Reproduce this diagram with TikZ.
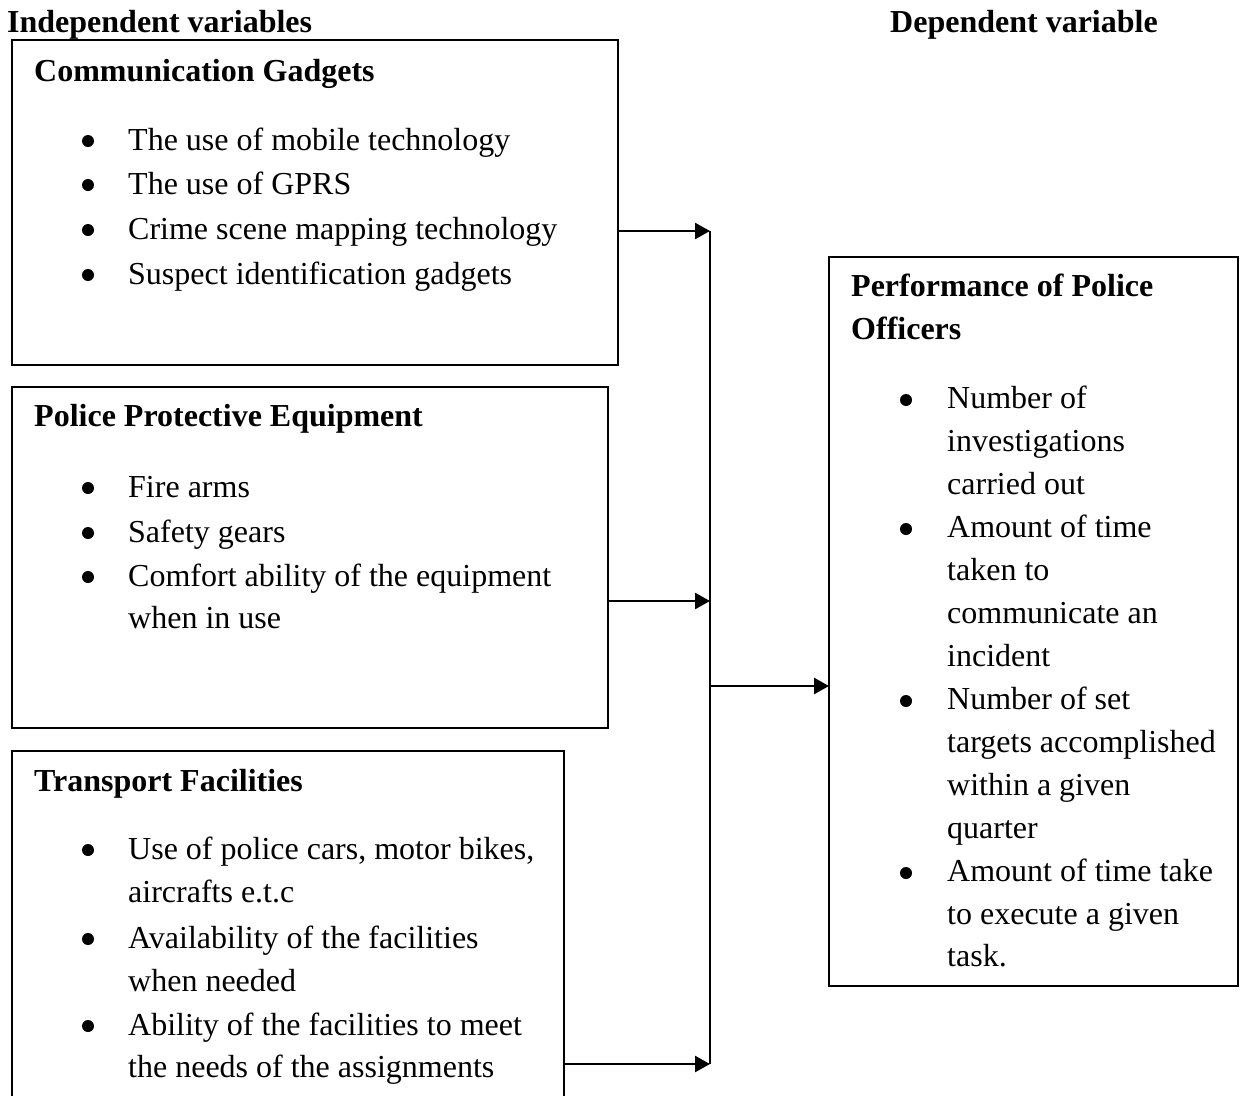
\documentclass[tikz,border=0pt]{standalone}
\usepackage{fontspec}
\setmainfont{Liberation Serif}
\usetikzlibrary{arrows.meta}
\begin{document}
\begin{tikzpicture}[x=1pt,y=1pt,
  box/.style={draw, line width=2.2pt, anchor=north west, inner sep=0pt, outer sep=0pt},
  txt/.style={anchor=base west, inner sep=0pt, font=\fontsize{32}{40}\selectfont},
  hd/.style={anchor=base west, inner sep=0pt, font=\fontsize{32}{40}\selectfont\bfseries},
  arr/.style={line width=2.6pt, -{Triangle[length=15pt,width=16pt]}},
  dot/.style={circle, fill, inner sep=0pt, minimum size=12pt}]
\clip (0,0) rectangle (1241,-1095);
\fill[white] (0,0) rectangle (1241,-1095);

% headers
\node[hd] (hind) at (7,-32) {Independent variables};
\node[hd] (hdep) at (890,-32) {Dependent variable};

% boxes
\node[box, minimum width=606pt, minimum height=325pt] (b1) at (12,-40) {};
\node[box, minimum width=596pt, minimum height=341pt] (b2) at (12,-387) {};
\node[box, minimum width=552pt, minimum height=380pt] (b3) at (12,-751) {};
\node[box, minimum width=409pt, minimum height=729pt] (perf) at (829,-257) {};

% box 1
\node[hd] (t1) at (34,-81) {Communication Gadgets};
\foreach \y/\t [count=\i] in {150/The use of mobile technology, 194/The use of GPRS, 239/Crime scene mapping technology, 284/Suspect identification gadgets}
  \node[txt] (c\i) at (128,-\y) {\t};
\foreach \y [count=\i] in {150,194,239,284}
  \node[dot] (cb\i) at (88,-\y+9) {};

% box 2
\node[hd] (t2) at (34,-426) {Police Protective Equipment};
\foreach \y/\t [count=\i] in {497/Fire arms, 542/Safety gears, 586/Comfort ability of the equipment, 628/when in use}
  \node[txt] (p\i) at (128,-\y) {\t};
\foreach \y [count=\i] in {497,542,586}
  \node[dot] (pb\i) at (88,-\y+9) {};

% box 3
\node[hd] (t3) at (34,-791) {Transport Facilities};
\foreach \y/\t [count=\i] in {{859/Use of police cars, motor bikes,}, 902/aircrafts e.t.c, 948/Availability of the facilities, 991/when needed, 1035/Ability of the facilities to meet, 1077/the needs of the assignments}
  \node[txt] (f\i) at (128,-\y) {\t};
\foreach \y [count=\i] in {859,948,1035}
  \node[dot] (fb\i) at (88,-\y+9) {};

% dependent box
\node[hd] (t4a) at (851,-296) {Performance of Police};
\node[hd] (t4b) at (851,-339) {Officers};
\foreach \y/\t [count=\i] in {408/Number of, 451/investigations, 494/carried out, 537/Amount of time, 580/taken to, 623/communicate an, 666/incident, 709/Number of set, 752/targets accomplished, 795/within a given, 838/quarter, 881/Amount of time take, 924/to execute a given, 966/task.}
  \node[txt] (r\i) at (947,-\y) {\t};
\foreach \y [count=\i] in {408,537,709,881}
  \node[dot] (rb\i) at (906,-\y+8) {};

% connectors
\coordinate (j1) at (710,-231);
\coordinate (j2) at (710,-601);
\coordinate (j3) at (710,-1064);
\coordinate (j4) at (710,-686);
\draw[line width=2.6pt] (j1) -- (j3);
\draw[arr] (b1.east |- j1) -- (j1);
\draw[arr] (b2.east |- j2) -- (j2);
\draw[arr] (b3.east |- j3) -- (j3);
\draw[arr] (j4) -- (perf.west |- j4);
\end{tikzpicture}
\end{document}
